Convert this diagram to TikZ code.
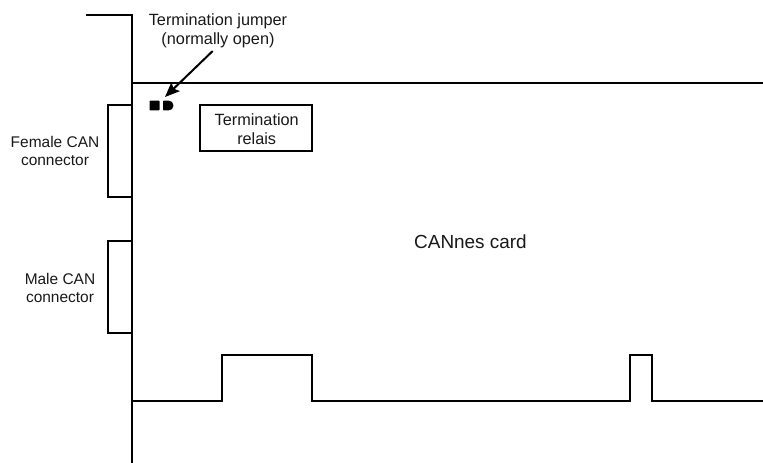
\documentclass[tikz,border=0pt]{standalone}
\usepackage{fontspec}
\setmainfont{Liberation Sans}
\usetikzlibrary{arrows.meta}
\tikzset{
  lab/.style={align=center,inner sep=0pt,font=\fontsize{12.2}{14.6}\selectfont,text=black!90},
  labs/.style={align=center,inner sep=0pt,font=\fontsize{11.6}{14.2}\selectfont,text=black!90},
  ln/.style={draw=black,line width=1.5pt},
}
\begin{document}
\begin{tikzpicture}[x=0.75pt,y=-0.75pt]
\useasboundingbox (0,0) rectangle (763,463);
\fill[white] (0,0) rectangle (763,463);
\draw[ln] (86,15) -- (132,15) -- (132,463);
\draw[ln] (132,83) -- (763,83);
\draw[ln] (132,105) -- (108,105) -- (108,197) -- (132,197);
\draw[ln] (132,241) -- (108,241) -- (108,333) -- (132,333);
\draw[ln] (132,401) -- (222,401) -- (222,355) -- (312,355) -- (312,401) -- (630,401) -- (630,355) -- (652,355) -- (652,401) -- (763,401);
\node[fill=black,minimum width=7.5pt,minimum height=7.4pt,inner sep=0pt,rounded corners=0.6pt] (padA) at (154.5,105.5) {};
\fill[black,rounded corners=0.4pt] (163.2,100.6) -- (168,100.6) .. controls (171.5,100.6) and (173.3,102.5) .. (173.3,105.5) .. controls (173.3,108.5) and (171.5,110.4) .. (168,110.4) -- (163.2,110.4) -- cycle;
\coordinate (padB) at (165,97);
\node[draw=black,line width=1.5pt,minimum width=84pt,minimum height=34.5pt,inner sep=0pt] (relais) at (256,128) {};
\node[lab] (relaisT) at (256.7,129) {Termination\\relais};
\node[lab] (jt) at (218,31) {Termination jumper\\(normally open)};
\node[labs] (fem) at (55,151) {Female CAN\\connector};
\node[labs] (mal) at (60,288) {Male CAN\\connector};
\node[align=center,inner sep=0pt,font=\fontsize{14.2}{18}\selectfont,text=black!90] (card) at (470.5,242) {CANnes card};
\coordinate (as) at (212.7,51);
\draw[black,line width=1.5pt,-{Stealth[length=11pt,width=9pt,inset=2pt]}] (as) -- (padB);
\end{tikzpicture}
\end{document}
